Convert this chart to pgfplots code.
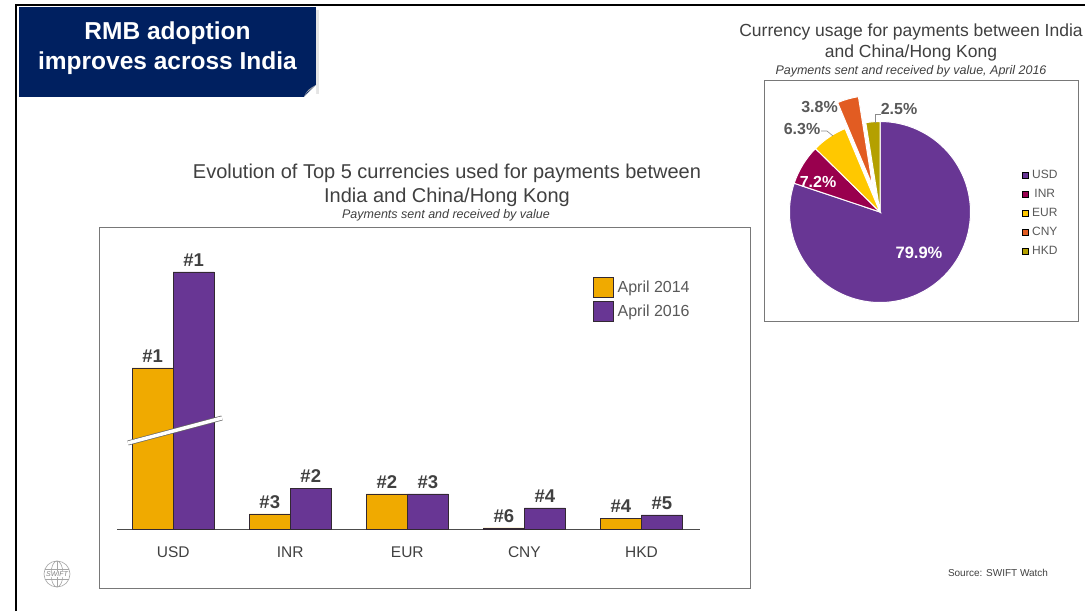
\documentclass[border=0pt]{standalone}
\usepackage{pgfplots}
\pgfplotsset{compat=1.18}
\usepackage{fontspec}
\setmainfont{Liberation Sans}
\definecolor{navy}{RGB}{0,32,96}
\definecolor{org}{RGB}{240,170,0}
\definecolor{pur}{RGB}{104,54,148}
\definecolor{inr}{RGB}{153,0,78}
\definecolor{eur}{RGB}{255,200,0}
\definecolor{cny}{RGB}{226,92,34}
\definecolor{hkd}{RGB}{180,160,0}
\definecolor{txt}{RGB}{64,64,64}
\definecolor{txt2}{RGB}{89,89,89}
\definecolor{boxg}{RGB}{120,120,120}
\definecolor{bardark}{RGB}{50,40,50}
\newcommand{\fs}[1]{\fontsize{#1}{#1}\selectfont}
\newcommand{\pieslice}[4]{%
  \fill[#3, draw=white, line width=1pt] (axis cs:0,0) ++({90-(#1+#2/2)*3.6108}:#4pt) -- ++({90-(#1+#2)*3.6108}:90.5pt) arc[start angle={90-(#1+#2)*3.6108}, end angle={90-#1*3.6108}, radius=90.5pt] -- cycle;}
\begin{document}
\begin{tikzpicture}[x=1pt,y=1pt]
\path[use as bounding box, fill=white] (0,0) rectangle (1085,611);
% slide frame
\draw[black, line width=2pt] (16,0) -- (16,606) -- (1085,606);
% title box
\fill[black!10] (316,517) rectangle (319,601);
\fill[navy] (19,514) rectangle (316,604);
\fill[white] (304,514) -- (316,514) -- (316,526) -- cycle;
\fill[black!35] (304,514) .. controls (306,520) and (310,523) .. (316,526) -- (310,521) .. controls (307,519) .. (304,514);
\node[anchor=base, text=white, font=\bfseries\fs{24.5}] at (167.5,571) {RMB adoption};
\node[anchor=base, text=white, font=\bfseries\fs{24.5}] at (167.5,541) {improves across India};
% bar chart titles and box
\node[anchor=base, text=txt, font=\fs{20}] at (447,432) {Evolution of Top 5 currencies used for payments between};
\node[anchor=base, text=txt, font=\fs{20}] at (447,408) {India and China/Hong Kong};
\node[anchor=base, text=txt, font=\itshape\fs{12.5}] at (446,392) {Payments sent and received by value};
\draw[boxg, line width=0.8pt] (99,23) rectangle (750,384);
% pie titles and box
\node[anchor=base, text=txt, font=\fs{17.5}] at (911,574) {Currency usage for payments between India};
\node[anchor=base, text=txt, font=\fs{17.5}] at (911,553) {and China/Hong Kong};
\node[anchor=base, text=txt, font=\itshape\fs{12.5}] at (911,536) {Payments sent and received by value, April 2016};
\draw[boxg, line width=0.8pt] (764,290) rectangle (1078,531);
% source and logo
\node[text=txt, font=\fs{10}] at (998,38) {Source: SWIFT Watch};
\begin{scope}[shift={(57,37)}]
\draw[gray!70, line width=0.6pt] (0,0) circle (13);
\draw[gray!70, line width=0.6pt] (0,0) ellipse (6 and 13);
\draw[gray!70, line width=0.6pt] (0,-13) -- (0,13);
\draw[gray!70, line width=0.6pt] (-12,5) -- (12,5);
\draw[gray!70, line width=0.6pt] (-12,-5) -- (12,-5);
\node[fill=white, inner sep=0.5pt, text=gray, font=\itshape\fs{7}] at (0,0) {SWIFT};
\end{scope}
% bar chart
\begin{axis}[
  at={(117pt,82pt)}, anchor=south west, scale only axis,
  width=583pt, height=289pt,
  xmin=-0.48, xmax=4.5, ymin=0, ymax=51.6,
  axis x line=bottom, axis y line=none,
  axis line style={-, draw=black!70, line width=1pt},
  xtick={0,1,2,3,4}, xticklabels={USD,INR,EUR,CNY,HKD},
  major tick length=0pt,
  xticklabel style={font=\fs{15.5}, text=txt, yshift=-14pt},
  ybar=0pt, bar width=41pt, clip=false,
  nodes near coords, point meta=explicit symbolic,
  every node near coord/.append style={font=\bfseries\fs{18.5}, text=txt, yshift=2pt},
  legend style={at={(0.811,0.879)}, anchor=north west, draw=none, fill=none, font=\fs{16}, text=txt2, row sep=3pt},
]
\addplot[fill=org, draw=bardark, line width=0.6pt,
  legend image code/.code={\draw[fill=org, draw=bardark, line width=0.6pt] (0pt,-10pt) rectangle (20pt,10pt); \path (22pt,0pt);}]
  coordinates {(0,28.75)[\#1] (1,2.68)[\#3] (2,6.25)[\#2] (3,0.2)[\#6] (4,1.96)[\#4]};
\addlegendentry{April 2014}
\addplot[fill=pur, draw=bardark, line width=0.6pt,
  legend image code/.code={\draw[fill=pur, draw=bardark, line width=0.6pt] (0pt,-10pt) rectangle (20pt,10pt); \path (22pt,0pt);}]
  coordinates {(0,45.9)[\#1] (1,7.32)[\#2] (2,6.25)[\#3] (3,3.75)[\#4] (4,2.5)[\#5]};
\addlegendentry{April 2016}
\draw[draw=black!60, double=white, double distance=3.5pt, line width=0.7pt] (axis cs:-0.386,15.36) -- (axis cs:0.417,19.82);
\end{axis}
% pie chart
\begin{axis}[
  at={(880pt,399pt)}, anchor=center, x=1pt, y=1pt,
  xmin=-110, xmax=110, ymin=-110, ymax=110,
  hide axis, clip=false,
  legend image code/.code={\fill[#1] (0pt,-3pt) rectangle (6pt,3pt); \path (7.5pt,0pt);},
  legend style={at={(axis cs:142,44)}, anchor=north west, draw=none, fill=none, font=\fs{12}, text=txt2, row sep=5.3pt, inner sep=0pt},
]
\pieslice{0}{79.9}{pur}{0}
\pieslice{79.9}{7.2}{inr}{0}
\pieslice{87.1}{6.3}{eur}{0}
\pieslice{93.4}{3.8}{cny}{27}
\pieslice{97.2}{2.5}{hkd}{0}
\addlegendimage{fill=pur}\addlegendentry{USD}
\addlegendimage{fill=inr}\addlegendentry{INR}
\addlegendimage{fill=eur}\addlegendentry{EUR}
\addlegendimage{fill=cny}\addlegendentry{CNY}
\addlegendimage{fill=hkd}\addlegendentry{HKD}
\node[text=white, font=\bfseries\fs{16.5}] at (axis cs:39,-41) {79.9\%};
\node[text=white, font=\bfseries\fs{16}] at (axis cs:-62,30) {7.2\%};
\node[text=txt2, font=\bfseries\fs{16}] at (axis cs:-78,83) {6.3\%};
\node[text=txt2, font=\bfseries\fs{16}] at (axis cs:-60.5,105) {3.8\%};
\node[text=txt2, font=\bfseries\fs{16}] at (axis cs:19,103) {2.5\%};
\draw[txt2!70, line width=0.6pt] (axis cs:-59,81) -- (axis cs:-53,81) -- (axis cs:-47,76);
\draw[txt2!70, line width=0.6pt] (axis cs:-5,89) -- (axis cs:-5,98) -- (axis cs:1,98);
\end{axis}
\end{tikzpicture}
\end{document}
